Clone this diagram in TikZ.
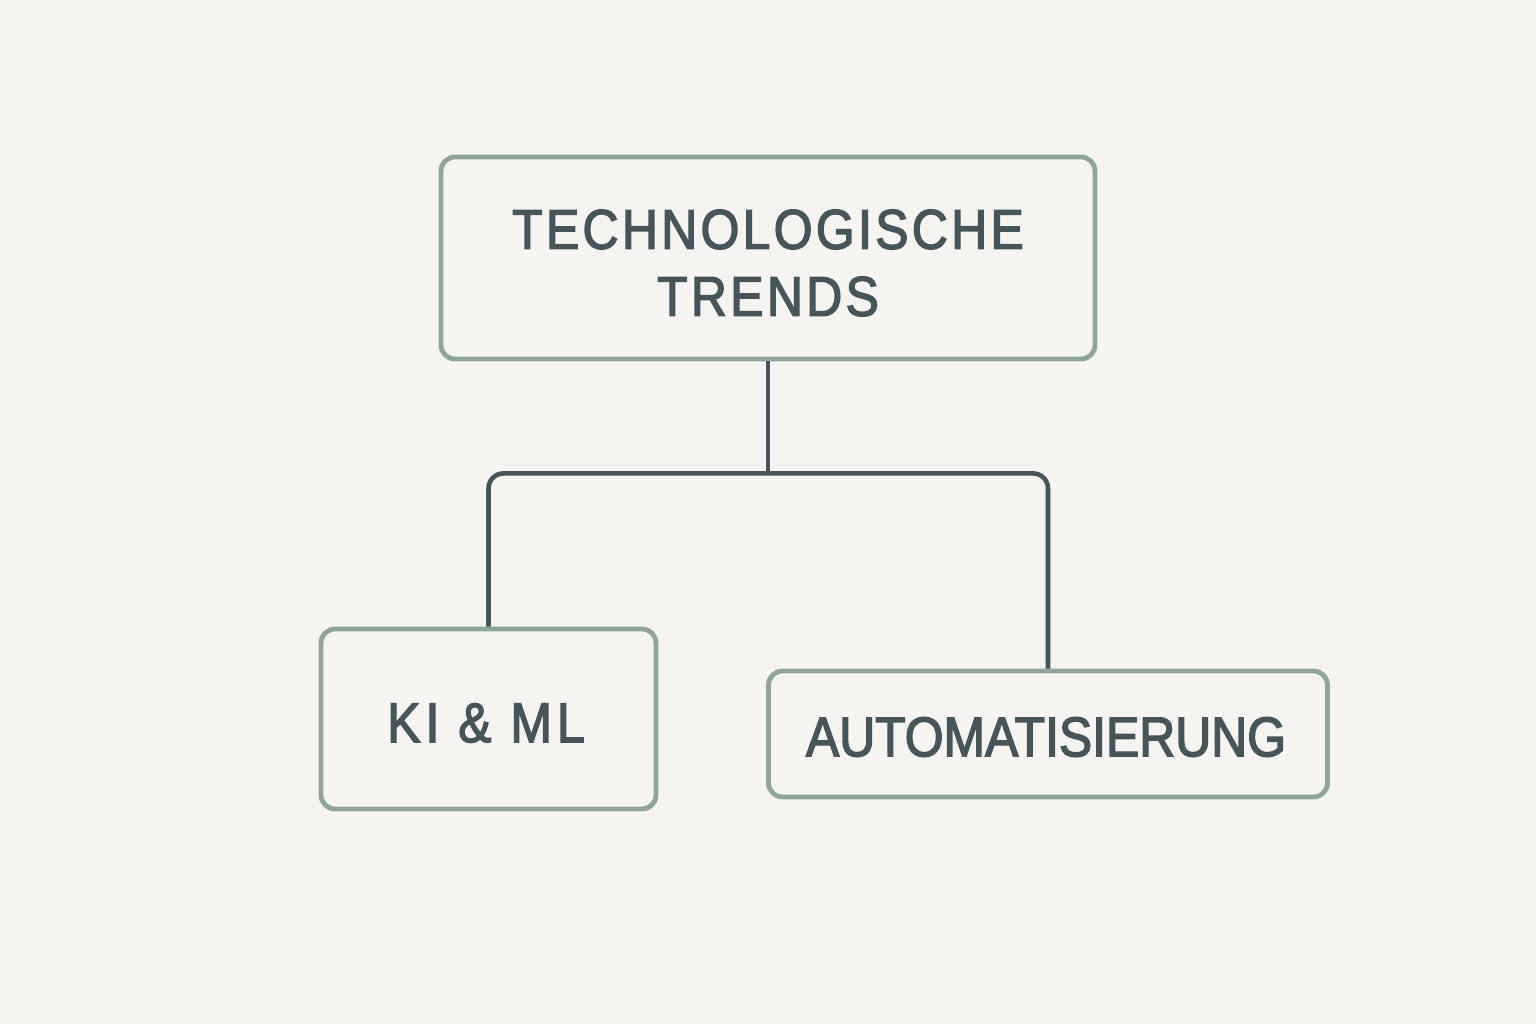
\documentclass[tikz,border=0pt]{standalone}
\usepackage{fontspec}
\setmainfont{Liberation Sans}
\definecolor{bg}{HTML}{F5F4F0}
\definecolor{frame}{HTML}{8FA598}
\definecolor{ink}{HTML}{45555A}
\newcommand{\lblfont}[1]{\fontsize{28}{33.5}\selectfont\addfontfeatures{FakeStretch=0.89,FakeBold=2.5,LetterSpace=#1}}
\begin{document}
\begin{tikzpicture}[x=0.5pt,y=-0.5pt,
  box/.style={draw=frame,line width=2.4pt,rounded corners=7pt,fill=bg,inner sep=0pt},
  txt/.style={text=ink,align=center,inner sep=0pt},
  conn/.style={draw=ink,line width=2.3pt}]
\fill[bg] (0,0) rectangle (1536,1024);
\useasboundingbox (0,0) rectangle (1536,1024);
\node[box,minimum width=327pt,minimum height=101pt] (top) at (768,258) {};
\node[box,minimum width=167.5pt,minimum height=90pt] (ki) at (488.5,719) {};
\node[box,minimum width=279.5pt,minimum height=63pt] (auto) at (1048,734) {};
\node[txt,font=\lblfont{6}] (toptxt) at (768,263) {TECHNOLOGISCHE\\TRENDS};
\node[txt,font=\lblfont{9}] (kitxt) at (486,723) {KI \& ML};
\node[txt,font=\lblfont{0}] (autotxt) at (1046,737) {AUTOMATISIERUNG};
\draw[conn] (top.south) -- ++(0,112) coordinate (j);
\draw[conn,rounded corners=7.5pt] (ki.north) |- (j) -| (auto.north);
\end{tikzpicture}
\end{document}
